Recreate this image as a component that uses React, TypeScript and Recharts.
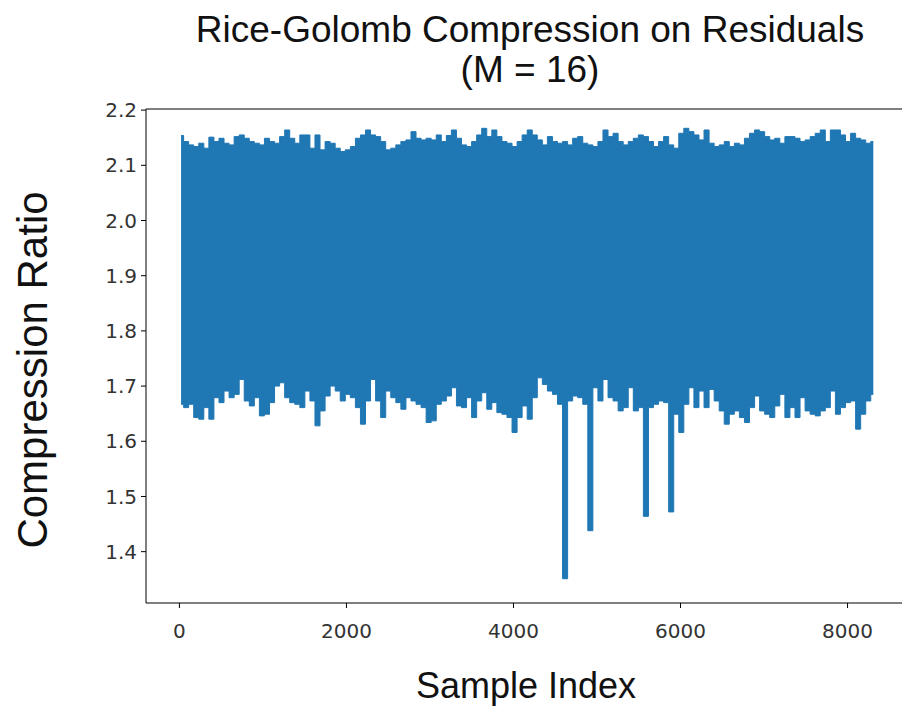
import React from 'react';
import { ComposedChart, Area, XAxis, YAxis, ReferenceLine } from 'recharts';

// envelope of the residual compression ratio, read about every 60 samples
const sampleStep = 60.5;
const firstSample = 20;

const upperEnvelope = [
  2.154, 2.143, 2.137, 2.134, 2.140, 2.131, 2.151, 2.143, 2.149, 2.140,
  2.137, 2.152, 2.155, 2.149, 2.143, 2.140, 2.137, 2.149, 2.143, 2.140,
  2.152, 2.164, 2.149, 2.140, 2.155, 2.155, 2.131, 2.155, 2.128, 2.143,
  2.140, 2.131, 2.125, 2.128, 2.134, 2.149, 2.155, 2.164, 2.155, 2.152,
  2.143, 2.128, 2.131, 2.137, 2.143, 2.146, 2.161, 2.149, 2.146, 2.149,
  2.146, 2.155, 2.143, 2.154, 2.164, 2.149, 2.137, 2.134, 2.143, 2.155,
  2.167, 2.152, 2.164, 2.152, 2.143, 2.140, 2.134, 2.143, 2.155, 2.164,
  2.155, 2.146, 2.137, 2.152, 2.143, 2.140, 2.143, 2.137, 2.149, 2.152,
  2.140, 2.137, 2.134, 2.143, 2.164, 2.152, 2.158, 2.143, 2.137, 2.143,
  2.149, 2.155, 2.152, 2.143, 2.134, 2.143, 2.152, 2.137, 2.131, 2.158,
  2.167, 2.161, 2.155, 2.146, 2.164, 2.140, 2.134, 2.137, 2.143, 2.134,
  2.140, 2.137, 2.149, 2.158, 2.164, 2.161, 2.152, 2.146, 2.149, 2.140,
  2.152, 2.152, 2.149, 2.143, 2.146, 2.152, 2.158, 2.164, 2.143, 2.164,
  2.164, 2.155, 2.143, 2.158, 2.149, 2.146, 2.140, 2.143,
];

const lowerEnvelope = [
  1.667, 1.661, 1.667, 1.643, 1.640, 1.661, 1.640, 1.679, 1.670, 1.691,
  1.679, 1.685, 1.712, 1.673, 1.664, 1.679, 1.646, 1.649, 1.670, 1.700,
  1.706, 1.679, 1.670, 1.667, 1.661, 1.691, 1.673, 1.628, 1.655, 1.682,
  1.700, 1.691, 1.673, 1.685, 1.679, 1.661, 1.631, 1.673, 1.712, 1.673,
  1.643, 1.691, 1.679, 1.670, 1.658, 1.679, 1.673, 1.667, 1.661, 1.634,
  1.637, 1.667, 1.673, 1.682, 1.697, 1.664, 1.661, 1.679, 1.643, 1.673,
  1.688, 1.658, 1.670, 1.652, 1.649, 1.643, 1.616, 1.643, 1.664, 1.640,
  1.679, 1.715, 1.703, 1.691, 1.685, 1.667, 1.351, 1.673, 1.682, 1.679,
  1.667, 1.438, 1.697, 1.673, 1.712, 1.679, 1.673, 1.655, 1.661, 1.697,
  1.655, 1.661, 1.464, 1.661, 1.667, 1.673, 1.670, 1.472, 1.649, 1.616,
  1.667, 1.697, 1.661, 1.691, 1.661, 1.694, 1.673, 1.655, 1.631, 1.649,
  1.655, 1.643, 1.634, 1.661, 1.682, 1.655, 1.649, 1.643, 1.664, 1.685,
  1.643, 1.661, 1.643, 1.679, 1.655, 1.649, 1.646, 1.655, 1.661, 1.691,
  1.649, 1.661, 1.670, 1.673, 1.622, 1.649, 1.673, 1.685,
];

const xTicks = [0, 2000, 4000, 6000, 8000];
const yTicks = [1.4, 1.5, 1.6, 1.7, 1.8, 1.9, 2.0, 2.1, 2.2];

const xDomain: [number, number] = [-400, 8700];
const yDomain: [number, number] = [1.307, 2.202];

// the signal swings between both envelopes so densely it reads as a band
const bandData = upperEnvelope.map((hi, k) => ({
  idx: firstSample + k * sampleStep,
  ratio: [lowerEnvelope[k], hi],
}));

const textFont = '"Liberation Sans", Arial, sans-serif';
const tickStyle = { fontFamily: '"DejaVu Sans", sans-serif', fontSize: 20, fill: '#333' };

export default function App() {
  return (
    <div
      style={{
        position: 'absolute',
        left: 0,
        top: 0,
        width: 902,
        height: 711,
        overflow: 'hidden',
        background: '#fff',
      }}
    >
      <div
        style={{
          position: 'absolute',
          left: 0,
          top: 10,
          width: 1060,
          textAlign: 'center',
          fontFamily: textFont,
          fontSize: 37,
          lineHeight: '40px',
          color: '#111',
        }}
      >
        Rice-Golomb Compression on Residuals
        <br />
        (M = 16)
      </div>

      <ComposedChart
        width={920}
        height={711}
        data={bandData}
        margin={{ top: 109, right: 14, bottom: 68, left: 0 }}
      >
        <XAxis
          dataKey="idx"
          type="number"
          domain={xDomain}
          ticks={xTicks}
          allowDataOverflow
          height={40}
          stroke="#000"
          tickSize={5}
          tickMargin={16}
          tick={tickStyle}
        />
        <YAxis
          type="number"
          domain={yDomain}
          ticks={yTicks}
          allowDataOverflow
          width={146}
          stroke="#000"
          tickSize={5}
          tickMargin={4}
          tick={tickStyle}
          tickFormatter={(v: number) => v.toFixed(1)}
        />
        <ReferenceLine y={yDomain[1]} stroke="#000" />
        <ReferenceLine x={xDomain[1]} stroke="#000" />
        <Area
          type="step"
          dataKey="ratio"
          stroke="#1f77b4"
          strokeWidth={1}
          fill="#1f77b4"
          fillOpacity={1}
          dot={false}
          activeDot={false}
          isAnimationActive={false}
        />
      </ComposedChart>

      <div
        style={{
          position: 'absolute',
          left: 526,
          top: 686,
          transform: 'translate(-50%, -50%)',
          whiteSpace: 'nowrap',
          fontFamily: textFont,
          fontSize: 36,
          color: '#111',
        }}
      >
        Sample Index
      </div>
      <div
        style={{
          position: 'absolute',
          left: 33,
          top: 370,
          transform: 'translate(-50%, -50%) rotate(-90deg)',
          whiteSpace: 'nowrap',
          fontFamily: textFont,
          fontSize: 42,
          color: '#111',
        }}
      >
        Compression Ratio
      </div>
    </div>
  );
}
